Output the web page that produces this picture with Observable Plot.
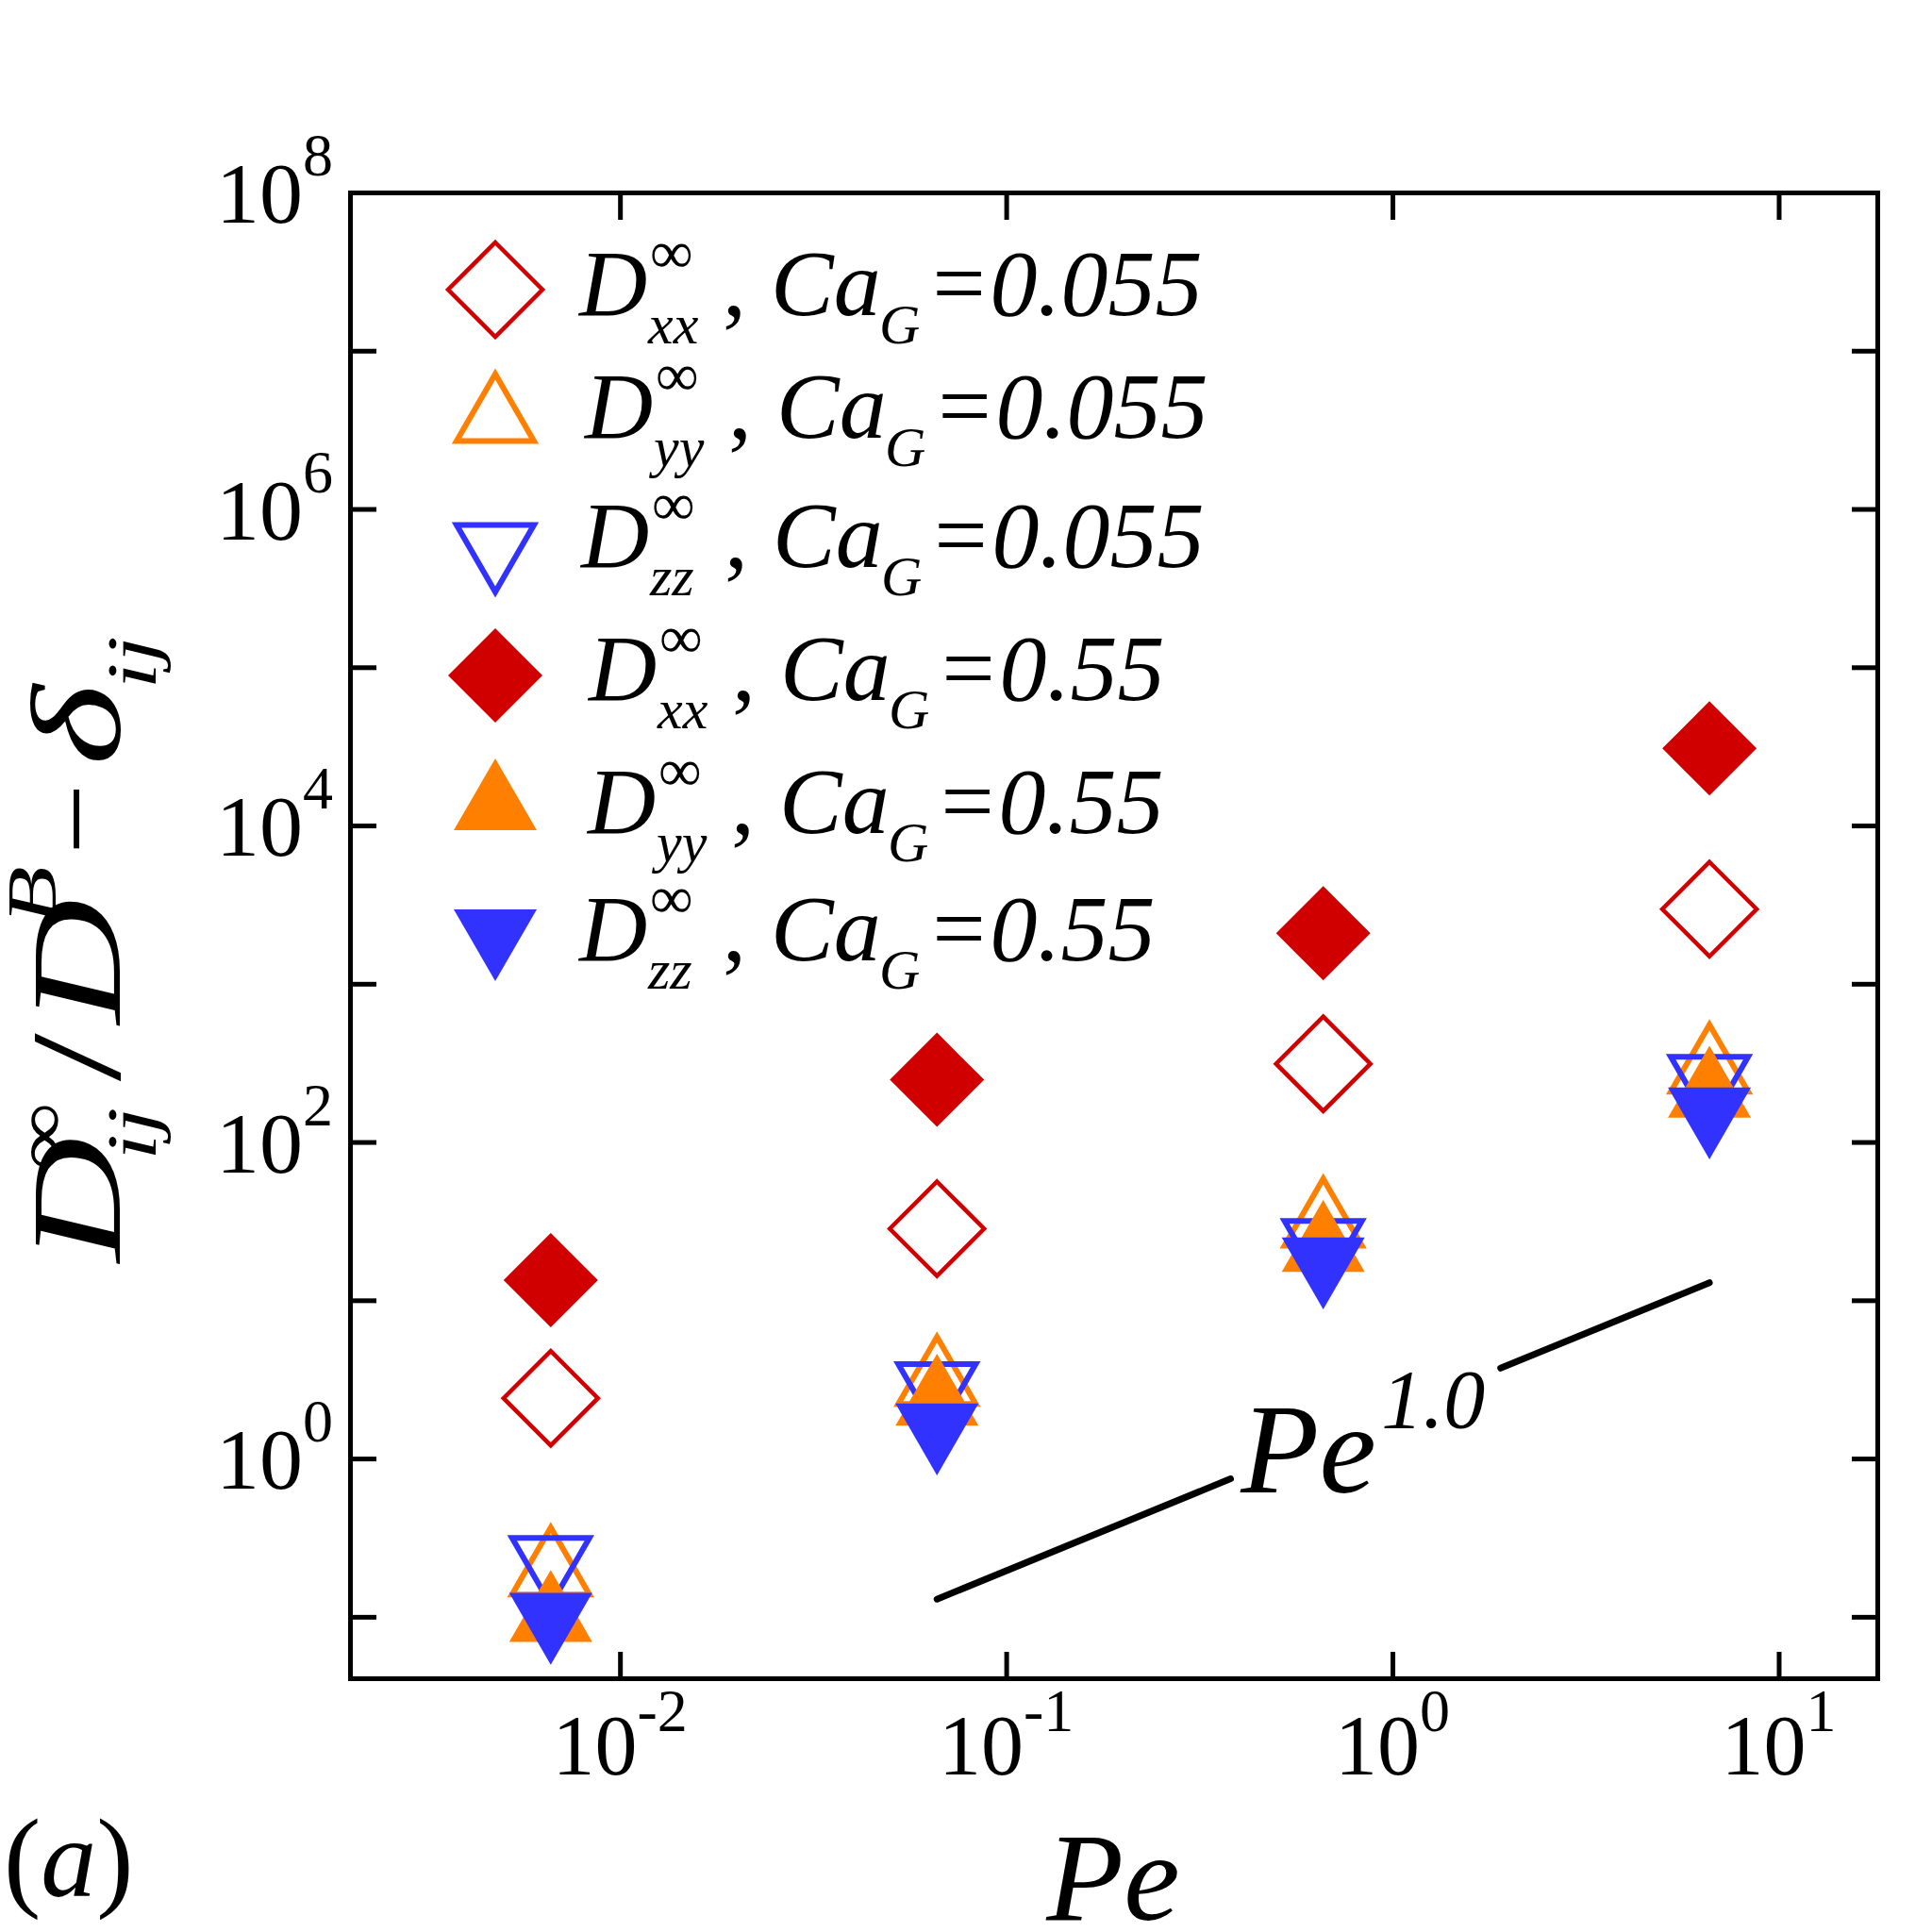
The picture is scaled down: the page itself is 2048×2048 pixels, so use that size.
<!DOCTYPE html>
<html>
<head>
<meta charset="utf-8">
<script src="https://cdn.jsdelivr.net/npm/d3@7"></script>
<script src="https://cdn.jsdelivr.net/npm/@observablehq/plot@0.6"></script>
<style>
  body { margin: 0; background: #fff; }
  #chart svg { display: block; }
</style>
</head>
<body>
<div id="chart"></div>
<script>
// Péclet numbers of the simulations
const pe = [0.0066, 0.066, 0.66, 6.6];

// Long-time dispersion D_ij^inf / D^B - delta_ij, Ca_G = 0.055 (open markers)
const dxx055 = [2.42, 28.5, 314, 2980];
const dyy055 = [0.227, 3.63, 36.2, 341];
const dzz055 = [0.195, 2.44, 19.6, 214];

// Same quantity for Ca_G = 0.55 (filled markers)
const dxx55 = [13.5, 249, 2100, 30900];
const dyy55 = [0.118, 2.74, 25.7, 242];
const dzz55 = [0.0846, 1.33, 14.9, 132];

// Reference slope Pe^1.0, drawn in two pieces around its label
const slopePe = [0.066, 0.38, 1.9, 6.6];
const slopeVal = [0.13, 0.75, 3.75, 13];
const slopePart = ["lower", "lower", "upper", "upper"];

// Axis ticks (decades)
const xTickExp = [-2, -1, 0, 1];
const yTickExp = [-1, 0, 1, 2, 3, 4, 5, 6, 7, 8];
const yLabelExp = [0, 2, 4, 6, 8];

// Legend entries
const legendComp = ["xx", "yy", "zz", "xx", "yy", "zz"];
const legendCa = ["0.055", "0.055", "0.055", "0.55", "0.55", "0.55"];

const red = "#d00000", orange = "#ff8000", blue = "#3232ff";
const serif = "Liberation Serif, Times New Roman, serif";

const rows = pe.map((p, i) => ({
  pe: p,
  xx055: dxx055[i], yy055: dyy055[i], zz055: dzz055[i],
  xx55: dxx55[i], yy55: dyy55[i], zz55: dzz55[i]
}));
const slopeRows = slopePe.map((p, i) => ({pe: p, value: slopeVal[i], part: slopePart[i]}));

// Marker shapes: square diamond and equilateral triangles centred on their bounding box
const radius = (size) => Math.sqrt(size / Math.PI);
const diamond = {draw(ctx, size) {
  const r = radius(size);
  ctx.moveTo(0, -r); ctx.lineTo(r, 0); ctx.lineTo(0, r); ctx.lineTo(-r, 0); ctx.closePath();
}};
const triUp = {draw(ctx, size) {
  const r = radius(size), h = r * Math.sqrt(3) / 2;
  ctx.moveTo(0, -h); ctx.lineTo(r, h); ctx.lineTo(-r, h); ctx.closePath();
}};
const triDown = {draw(ctx, size) {
  const r = radius(size), h = r * Math.sqrt(3) / 2;
  ctx.moveTo(0, h); ctx.lineTo(r, -h); ctx.lineTo(-r, -h); ctx.closePath();
}};

const series = [
  {key: "xx055", symbol: diamond, r: 50, color: red, open: true, sw: 4.5},
  {key: "yy055", symbol: triUp, r: 41, color: orange, open: true, sw: 6},
  {key: "zz055", symbol: triDown, r: 41, color: blue, open: true, sw: 6},
  {key: "xx55", symbol: diamond, r: 50, color: red, open: false, sw: 0},
  {key: "yy55", symbol: triUp, r: 44, color: orange, open: false, sw: 0},
  {key: "zz55", symbol: triDown, r: 44, color: blue, open: false, sw: 0}
];

const dotMarks = series.map(s => Plot.dot(rows, {
  x: "pe", y: s.key, symbol: s.symbol, r: s.r,
  fill: s.open ? "none" : s.color,
  stroke: s.open ? s.color : "none",
  strokeWidth: s.sw,
  strokeLinejoin: "miter"
}));

const xTicks = xTickExp.map(e => 10 ** e);
const yTicks = yTickExp.map(e => 10 ** e);
const noText = () => "";
const tickStyle = {tickSize: -28, strokeWidth: 5, tickFormat: noText, label: null};

const plot = Plot.plot({
  width: 2048,
  height: 2048,
  marginLeft: 371,
  marginRight: 58,
  marginTop: 204,
  marginBottom: 269,
  style: {fontFamily: serif, background: "white"},
  x: {type: "log", domain: [0.002, 18]},
  y: {type: "log", domain: [0.0409, 1e8]},
  marks: [
    Plot.line(slopeRows, {x: "pe", y: "value", z: "part", stroke: "black", strokeWidth: 7}),
    ...dotMarks,
    Plot.axisX(xTicks, {anchor: "bottom", ...tickStyle}),
    Plot.axisX(xTicks, {anchor: "top", ...tickStyle}),
    Plot.axisY(yTicks, {anchor: "left", ...tickStyle}),
    Plot.axisY(yTicks, {anchor: "right", ...tickStyle}),
    Plot.frame({stroke: "black", strokeWidth: 5})
  ]
});

document.getElementById("chart").appendChild(plot);

// Typeset labels (superscripts / subscripts) placed with the plot's scales
const sx = plot.scale("x"), sy = plot.scale("y");
const svg = d3.select(plot);
const g = svg.append("g")
  .style("font-family", serif)
  .attr("text-anchor", "start")
  .attr("fill", "black");

// y tick labels 10^n
for (const e of yLabelExp) {
  const t = g.append("text").attr("text-anchor", "end")
    .attr("x", 353).attr("y", sy.apply(10 ** e) + 32);
  t.append("tspan").attr("font-size", 92).text("10");
  t.append("tspan").attr("font-size", 64).attr("dy", -50).text(String(e));
}

// x tick labels 10^n
for (const e of xTickExp) {
  const t = g.append("text").attr("text-anchor", "middle")
    .attr("x", sx.apply(10 ** e)).attr("y", 1881);
  t.append("tspan").attr("font-size", 90).text("10");
  t.append("tspan").attr("font-size", 64).attr("dy", -46).text(e < 0 ? "-" + (-e) : String(e));
}

// x axis title
g.append("text").attr("text-anchor", "middle").attr("x", 1180).attr("y", 2035)
  .attr("font-size", 134).attr("font-style", "italic").text("Pe");

// panel tag
const tag = g.append("text").attr("x", 4).attr("y", 2010).attr("font-size", 118);
tag.append("tspan").text("(");
tag.append("tspan").attr("font-style", "italic").text("a");
tag.append("tspan").text(")");

// y axis title, reading bottom to top
const yt = g.append("text")
  .attr("transform", "translate(127,1338) rotate(-90) scale(1.35,1)")
  .attr("font-size", 136);
yt.append("tspan").attr("x", 0).attr("y", 0).attr("font-style", "italic").text("D");
yt.append("tspan").attr("x", 72).attr("y", -58).attr("font-size", 75).text("\u221E");
yt.append("tspan").attr("x", 80).attr("y", 38).attr("font-size", 75).attr("font-style", "italic").text("ij");
yt.append("tspan").attr("x", 142).attr("y", 0).text("/");
yt.append("tspan").attr("x", 187).attr("y", 0).attr("font-style", "italic").text("D");
yt.append("tspan").attr("x", 265).attr("y", -68).attr("font-size", 75).attr("font-style", "italic").text("B");
yt.append("tspan").attr("x", 320).attr("y", -6).attr("font-size", 120)
  .attr("textLength", 56).attr("lengthAdjust", "spacingAndGlyphs").text("\u2212");
yt.append("tspan").attr("x", 390).attr("y", 0).attr("font-style", "italic").text("\u03B4");
yt.append("tspan").attr("x", 450).attr("y", 38).attr("font-size", 75).attr("font-style", "italic").text("ij");

// slope label Pe^1.0
const slopeLabelPe = 0.405, slopeLabelVal = 0.61;
const lx = sx.apply(slopeLabelPe), ly = sy.apply(slopeLabelVal);
g.append("text").attr("x", lx).attr("y", ly).attr("font-size", 136)
  .attr("font-style", "italic").text("Pe");
g.append("text").attr("x", lx + 149).attr("y", ly - 69).attr("font-size", 88)
  .attr("font-style", "italic").text("1.0");

// legend
const legendX = 525, textX = [614, 620, 616, 624, 623, 614];
const symY = [307, 432, 592, 716, 842, 1002];
const baseY = [334, 464, 601, 742, 883, 1018];
const lg = g.append("g");
series.forEach((s, i) => {
  lg.append("path")
    .attr("transform", `translate(${legendX},${symY[i]})`)
    .attr("d", d3.symbol(s.symbol, Math.PI * s.r * s.r)())
    .attr("fill", s.open ? "none" : s.color)
    .attr("stroke", s.open ? s.color : "none")
    .attr("stroke-width", s.sw)
    .attr("stroke-linejoin", "miter");
  const x0 = textX[i], b = baseY[i];
  const it = (x, y, size, str, italic = true) =>
    lg.append("text").attr("x", x).attr("y", y).attr("font-size", size)
      .attr("font-style", italic ? "italic" : "normal").text(str);
  it(x0, b, 100, "D");
  it(x0 + 75, b - 45, 64, "\u221E", false);
  it(x0 + 73, b + 30, 60, legendComp[i]);
  it(x0 + 152, b, 100, ",", false);
  it(x0 + 203, b, 100, "Ca");
  it(x0 + 318, b + 30, 60, "G");
  it(x0 + 368, b, 100, "=" + legendCa[i]);
});
</script>
</body>
</html>
